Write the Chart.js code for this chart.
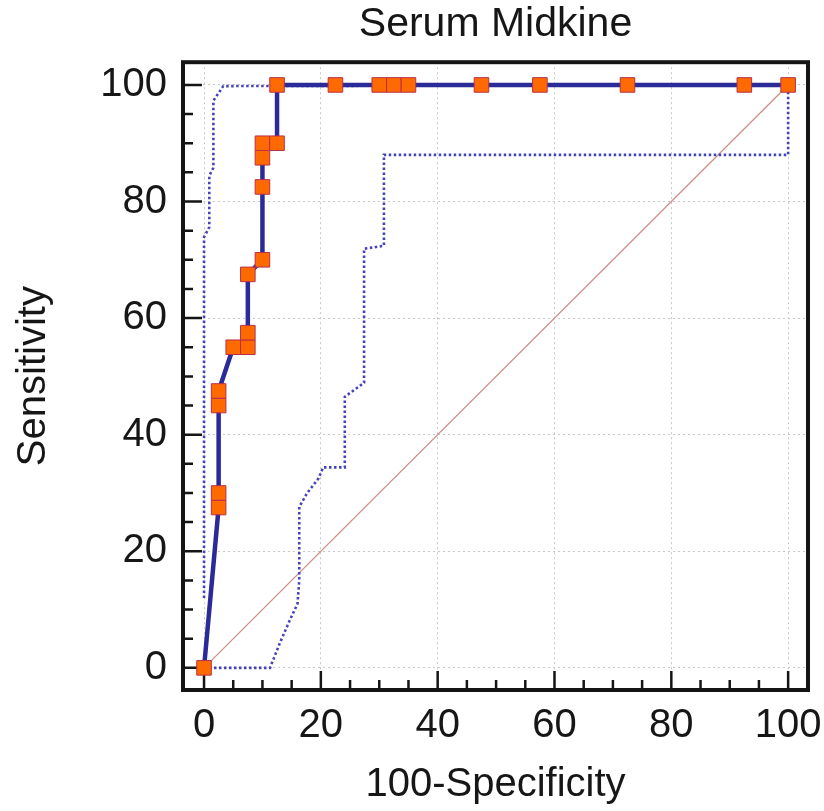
<!DOCTYPE html>
<html>
<head>
<meta charset="utf-8">
<script src="https://cdn.jsdelivr.net/npm/chart.js@4.4.0/dist/chart.umd.min.js"></script>
<style>
  html, body { margin: 0; padding: 0; background: #fff; }
  #wrap { width: 824px; height: 811px; }
</style>
</head>
<body>
<div id="wrap"><canvas id="rocChart"></canvas></div>
<script>
// ROC curve (100-Specificity, Sensitivity)
const rocX = [0, 2.5, 2.5, 2.5, 2.5, 5, 7.5, 7.5, 7.5, 10, 10, 10, 10, 12.5, 12.5, 22.5, 30, 32.5, 35, 47.5, 57.5, 72.5, 92.5, 100];
const rocY = [0, 27.5, 30, 45, 47.5, 55, 55, 57.5, 67.5, 70, 82.5, 87.5, 90, 90, 100, 100, 100, 100, 100, 100, 100, 100, 100, 100];

// confidence bounds (dotted)
const upperX = [0, 0, 0.9, 0.9, 1.6, 1.6, 3.3, 100];
const upperY = [12, 73.9, 75.6, 84.4, 85.8, 97.3, 99.8, 100];
const lowerX = [0, 11.3, 13, 14.7, 16, 16.3, 16.3, 17.6, 19.6, 20.4, 24.1, 24.1, 27.4, 27.4, 30.8, 30.8, 100, 100];
const lowerY = [0, 0, 4.3, 8.2, 11, 15, 27.6, 29.9, 32.5, 34.4, 34.4, 46.5, 48.9, 71.9, 72.4, 88, 88, 100];

// reference diagonal
const diagX = [0, 100];
const diagY = [0, 100];

const xTicks = [0, 20, 40, 60, 80, 100];
const yTicks = [0, 20, 40, 60, 80, 100];
const minorTicks = [0, 5, 10, 15, 20, 25, 30, 35, 40, 45, 50, 55, 60, 65, 70, 75, 80, 85, 90, 95, 100];

const toPts = (xs, ys) => xs.map((v, i) => ({ x: v, y: ys[i] }));
const fam = "'Liberation Sans', Arial, sans-serif";
const txt = '#161616';

// frame + inward tick marks
const framePlugin = {
  id: 'frame',
  beforeDatasetsDraw(chart) {
    const { ctx, chartArea: a, scales: { x, y } } = chart;
    ctx.save();
    ctx.strokeStyle = '#151515';
    ctx.lineWidth = 2.5;
    ctx.beginPath();
    minorTicks.forEach(v => {
      const len = xTicks.includes(v) ? 19 : 10;
      const px = x.getPixelForValue(v);
      ctx.moveTo(px, a.bottom);
      ctx.lineTo(px, a.bottom - len);
      const py = y.getPixelForValue(v);
      ctx.moveTo(a.left, py);
      ctx.lineTo(a.left + len, py);
    });
    ctx.stroke();
    ctx.lineWidth = 4;
    ctx.strokeRect(a.left, a.top, a.right - a.left, a.bottom - a.top);
    ctx.restore();
  }
};

new Chart(document.getElementById('rocChart'), {
  type: 'scatter',
  data: {
    datasets: [
      {
        label: 'ROC',
        data: toPts(rocX, rocY),
        showLine: true,
        borderColor: '#2a2a98',
        borderWidth: 4.5,
        pointStyle: 'rect',
        pointRadius: 10.3,
        pointBackgroundColor: '#ff6a00',
        pointBorderColor: '#b8304a',
        pointBorderWidth: 1,
        order: 0,
      },
      {
        label: 'Upper',
        data: toPts(upperX, upperY),
        showLine: true,
        borderColor: '#4444b8',
        borderWidth: 2.6,
        borderDash: [2.5, 2.5],
        pointRadius: 0,
        order: 1,
      },
      {
        label: 'Lower',
        data: toPts(lowerX, lowerY),
        showLine: true,
        borderColor: '#4444b8',
        borderWidth: 2.6,
        borderDash: [2.5, 2.5],
        pointRadius: 0,
        order: 1,
      },
      {
        label: 'Diagonal',
        data: toPts(diagX, diagY),
        showLine: true,
        borderColor: '#cf8e84',
        borderWidth: 1.3,
        pointRadius: 0,
        order: 2,
      },
    ],
  },
  options: {
    responsive: true,
    maintainAspectRatio: false,
    animation: false,
    layout: { padding: { left: 0, right: 16, top: 0, bottom: 0 } },
    plugins: {
      legend: { display: false },
      tooltip: { enabled: false },
      title: {
        display: true,
        text: 'Serum Midkine',
        fullSize: false,
        color: txt,
        font: { family: fam, size: 41, weight: 'normal' },
        padding: { top: 0, bottom: 13 },
      },
    },
    scales: {
      x: {
        type: 'linear',
        min: -3.6,
        max: 103.4,
        afterBuildTicks: s => { s.ticks = xTicks.map(v => ({ value: v })); },
        afterFit: s => { s.height = 121; s.paddingLeft = 0; s.paddingRight = 0; },
        grid: { color: '#c8c8c8', lineWidth: 1, drawTicks: false },
        border: { display: false, dash: [2, 3] },
        ticks: { color: txt, font: { family: fam, size: 40 }, padding: 12, maxRotation: 0, autoSkip: false },
        title: { display: true, text: '100-Specificity', color: txt, font: { family: fam, size: 40 }, padding: { top: 0, bottom: 2 } },
      },
      y: {
        type: 'linear',
        min: -3.8,
        max: 103.9,
        afterBuildTicks: s => { s.ticks = yTicks.map(v => ({ value: v })); },
        afterFit: s => { s.width = 183; s.paddingTop = 0; s.paddingBottom = 0; },
        grid: { color: '#c8c8c8', lineWidth: 1, drawTicks: false },
        border: { display: false, dash: [2, 3] },
        ticks: { color: txt, font: { family: fam, size: 40 }, padding: 16, autoSkip: false },
        title: { display: true, text: 'Sensitivity', color: txt, font: { family: fam, size: 40 }, padding: { top: 10, bottom: 0 } },
      },
    },
  },
  plugins: [framePlugin],
});
</script>
</body>
</html>
